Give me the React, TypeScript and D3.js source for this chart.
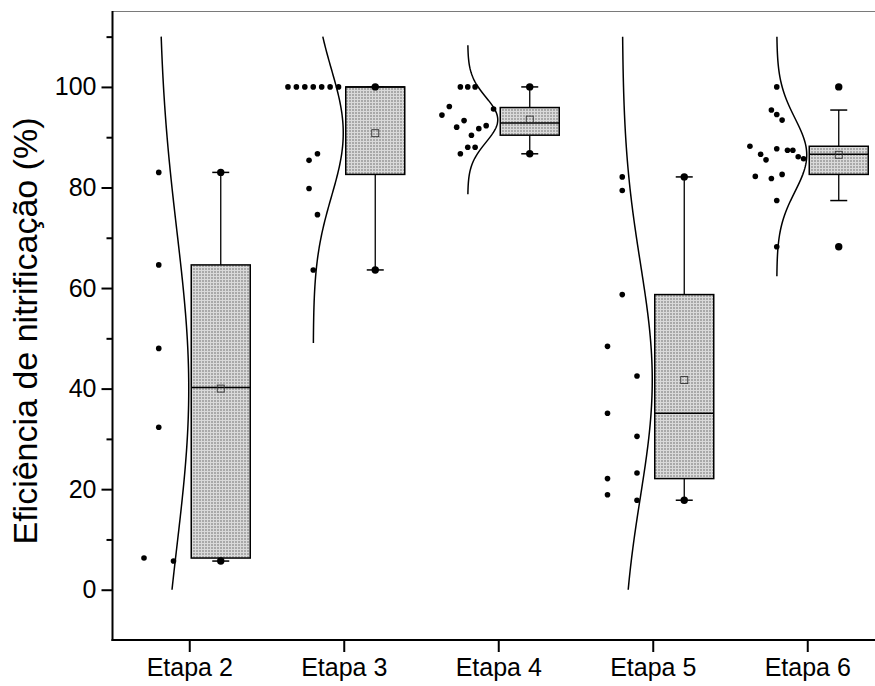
import React, { useEffect, useRef } from "react";
import * as d3 from "d3";

const etapas = ["Etapa 2", "Etapa 3", "Etapa 4", "Etapa 5", "Etapa 6"];

// pontos individuais (%), na ordem em que aparecem dentro de cada faixa
const etapa2 = [83.0, 64.6, 48.0, 32.3, 6.3, 5.7];
const etapa3 = [100, 100, 100, 100, 100, 100, 100, 85.4, 86.7, 79.8, 74.6, 63.6];
const etapa4 = [100, 100, 100, 94.4, 96.1, 92.0, 93.3, 90.4, 91.7, 92.3, 95.6, 86.7, 88.0, 88.0];
const etapa5 = [82.1, 79.4, 58.7, 48.4, 42.5, 35.1, 30.5, 22.1, 23.2, 18.9, 17.8];
const etapa6 = [100, 95.4, 94.5, 93.4, 88.2, 82.2, 86.6, 85.5, 81.8, 87.7, 82.6, 87.4, 87.4, 86.1, 85.7, 77.4, 68.2];
const pontos = [etapa2, etapa3, etapa4, etapa5, etapa6];

// estatísticas do box
const q1 = [6.3, 82.6, 90.4, 22.1, 82.6];
const mediana = [40.2, 100, 92.8, 35.1, 86.6];
const q3 = [64.6, 100, 95.9, 58.7, 88.2];
const media = [40.0, 90.8, 93.5, 41.7, 86.5];
const bigodeMin = [5.7, 63.6, 86.7, 17.8, 77.4];
const bigodeMax = [83.0, 100, 100, 82.1, 95.4];
const minimo = [5.7, 63.6, 86.7, 17.8, 68.2];
const maximo = [83.0, 100, 100, 82.1, 100];

const yTicks = [0, 20, 40, 60, 80, 100];
const yMinor = [10, 30, 50, 70, 90, 110];

const W = 875;
const H = 686;
const FONT = "'Liberation Sans', Arial, Helvetica, sans-serif";

const x = d3.scalePoint<string>().domain(etapas).range([112.5, 885]).padding(0.5);
const y = d3.scaleLinear().domain([-10, 115]).range([640, 11.5]);

const dotOffset = -31; // pontos e curva à esquerda
const boxOffset = 31; // box à direita
const boxW = 59;
const curveAmp = 30;
const binSize = 10;

function swarm(values: number[]) {
  const bins = d3.group(values, (v) => Math.floor(v / binSize));
  const maxCount = d3.max(Array.from(bins.values()), (b) => b.length) || 1;
  const step = boxW / maxCount;
  const out: { v: number; dx: number }[] = [];
  bins.forEach((b) =>
    b.forEach((v, k) => out.push({ v, dx: (k - (b.length - 1) / 2) * step }))
  );
  return out;
}

function curvePath(values: number[], base: number) {
  const m = d3.mean(values) as number;
  const sd = d3.deviation(values) as number;
  const lo = Math.max(0, m - 3.3 * sd);
  const hi = Math.min(110, m + 3.3 * sd);
  const pts = d3.range(0, 121).map((i) => lo + ((hi - lo) * i) / 120);
  return d3
    .line<number>()
    .x((v) => base + curveAmp * Math.exp(-0.5 * ((v - m) / sd) ** 2))
    .y((v) => y(v))(pts) as string;
}

export default function App() {
  const yAxisRef = useRef<SVGGElement>(null);

  useEffect(() => {
    const g = d3.select(yAxisRef.current);
    g.selectAll("*").remove();
    const major = g.append("g").call(d3.axisLeft(y).tickValues(yTicks).tickSize(11).tickPadding(5));
    major.select(".domain").remove();
    major.selectAll("line").attr("stroke", "#000").attr("stroke-width", 2);
    major
      .selectAll("text")
      .attr("font-size", 25)
      .attr("font-family", FONT)
      .attr("fill", "#000");
    const minor = g.append("g").call(d3.axisLeft(y).tickValues(yMinor).tickSize(6).tickFormat(() => ""));
    minor.select(".domain").remove();
    minor.selectAll("line").attr("stroke", "#000").attr("stroke-width", 2);
  }, []);

  return (
    <div style={{ position: "absolute", left: 0, top: 0 }}>
      <svg width={W} height={H} style={{ display: "block", background: "#fff" }}>
        <defs>
          <pattern id="boxFill" width={3} height={3} patternUnits="userSpaceOnUse">
            <rect width={3} height={3} fill="#a9a9a9" />
            <rect width={3} height={1} fill="#dadada" />
            <rect width={1} height={3} fill="#dadada" />
          </pattern>
        </defs>

        {/* borda superior */}
        <line x1={112.5} x2={W} y1={11.5} y2={11.5} stroke="#7a7a7a" strokeWidth={1.2} />

        {etapas.map((e, i) => {
          const c = x(e) as number;
          const base = c + dotOffset;
          const bx = c + boxOffset;
          return (
            <g key={e}>
              <path d={curvePath(pontos[i], base)} fill="none" stroke="#000" strokeWidth={1.5} />
              {swarm(pontos[i]).map((p, k) => (
                <circle key={k} cx={base + p.dx} cy={y(p.v)} r={2.8} fill="#000" />
              ))}
              {/* bigodes */}
              <line x1={bx} x2={bx} y1={y(bigodeMax[i])} y2={y(q3[i])} stroke="#000" strokeWidth={1.3} />
              <line x1={bx} x2={bx} y1={y(q1[i])} y2={y(bigodeMin[i])} stroke="#000" strokeWidth={1.3} />
              <line x1={bx - 8.5} x2={bx + 8.5} y1={y(bigodeMax[i])} y2={y(bigodeMax[i])} stroke="#000" strokeWidth={1.5} />
              <line x1={bx - 8.5} x2={bx + 8.5} y1={y(bigodeMin[i])} y2={y(bigodeMin[i])} stroke="#000" strokeWidth={1.5} />
              <rect
                x={bx - boxW / 2}
                y={y(q3[i])}
                width={boxW}
                height={y(q1[i]) - y(q3[i])}
                fill="url(#boxFill)"
                stroke="#000"
                strokeWidth={1.5}
              />
              <line x1={bx - boxW / 2} x2={bx + boxW / 2} y1={y(mediana[i])} y2={y(mediana[i])} stroke="#000" strokeWidth={1.5} />
              <rect x={bx - 3.5} y={y(media[i]) - 3.5} width={7} height={7} fill="none" stroke="#333" strokeWidth={0.9} />
              <circle cx={bx} cy={y(maximo[i])} r={3.7} fill="#000" />
              <circle cx={bx} cy={y(minimo[i])} r={3.7} fill="#000" />
            </g>
          );
        })}

        {/* eixos */}
        <g ref={yAxisRef} transform="translate(112.5,0)" />
        <line x1={112.5} x2={112.5} y1={11} y2={641} stroke="#000" strokeWidth={2} />
        <line x1={111.5} x2={W} y1={640} y2={640} stroke="#000" strokeWidth={2} />
        {etapas.map((e) => (
          <g key={e} transform={`translate(${x(e)},640)`}>
            <line y1={0} y2={12} stroke="#000" strokeWidth={2} />
            <text y={36} textAnchor="middle" fontSize={25} fontFamily={FONT} fill="#000">
              {e}
            </text>
          </g>
        ))}
        <text
          transform="translate(37,331) rotate(-90)"
          textAnchor="middle"
          fontSize={34}
          fontFamily={FONT}
          fill="#000"
        >
          Eficiência de nitrificação (%)
        </text>
      </svg>
    </div>
  );
}
